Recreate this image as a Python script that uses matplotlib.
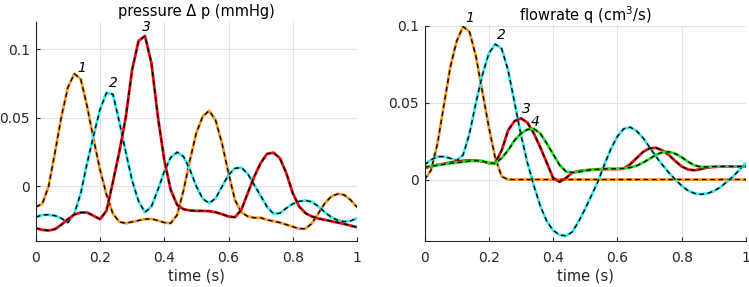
import numpy as np
import matplotlib
matplotlib.use("Agg")
import matplotlib.pyplot as plt

plt.rcParams['font.family'] = ['DejaVu Sans']
plt.rcParams['lines.scale_dashes'] = False

# time samples (s)
t = np.arange(51) * 0.02

# pressure curves (mmHg)
p1 = [-0.015, -0.013, 0.0, 0.025, 0.051, 0.072, 0.082, 0.078, 0.058, 0.034,
      0.012, -0.006, -0.020, -0.026, -0.027, -0.026, -0.025, -0.024, -0.0238, -0.025,
      -0.0265, -0.027, -0.021, -0.003, 0.019, 0.039, 0.051, 0.055, 0.048, 0.031,
      0.0095, -0.010, -0.019, -0.022, -0.023, -0.023, -0.0245, -0.0255, -0.0265, -0.028,
      -0.0295, -0.031, -0.031, -0.027, -0.0197, -0.0124, -0.0075, -0.0056, -0.0063, -0.010,
      -0.0153]
p2 = [-0.0225, -0.021, -0.0208, -0.0215, -0.0235, -0.0265, -0.020, -0.005, 0.017, 0.037,
      0.056, 0.068, 0.067, 0.047, 0.025, 0.004, -0.011, -0.019, -0.0148, -0.0027,
      0.0107, 0.021, 0.0248, 0.0216, 0.012, -0.0002, -0.0092, -0.0124, -0.0088, -0.0002,
      0.0083, 0.013, 0.0136, 0.009, 0.001, -0.007, -0.015, -0.020, -0.0197, -0.016,
      -0.0129, -0.011, -0.0104, -0.0114, -0.0148, -0.019, -0.0226, -0.0248, -0.0258, -0.0253,
      -0.0233]
p3 = [-0.0306, -0.0318, -0.0323, -0.0313, -0.028, -0.024, -0.0207, -0.0192, -0.0192, -0.0216,
      -0.024, -0.018, 0.003, 0.025, 0.050, 0.085, 0.106, 0.1095, 0.0897, 0.0508,
      0.0192, -0.0027, -0.0136, -0.0168, -0.0177, -0.018, -0.018, -0.0182, -0.019, -0.0204,
      -0.0221, -0.0226, -0.0172, -0.005, 0.007, 0.0168, 0.0236, 0.0245, 0.0204, 0.0095,
      -0.005, -0.0148, -0.0197, -0.0221, -0.0236, -0.0245, -0.0255, -0.0265, -0.0275, -0.0287,
      -0.0299]

# flowrate curves (cm^3/s)
q1 = [0.0, 0.006, 0.023, 0.048, 0.073, 0.090, 0.0995, 0.096, 0.080, 0.057,
      0.034, 0.014, 0.002] + [0.0] * 38
q2 = [0.0096, 0.0128, 0.0149, 0.0149, 0.0138, 0.0124, 0.016, 0.030, 0.050, 0.068,
      0.082, 0.088, 0.085, 0.071, 0.050, 0.029, 0.011, -0.004, -0.017, -0.027,
      -0.033, -0.036, -0.0366, -0.034, -0.027, -0.019, -0.010, -0.001, 0.010, 0.020,
      0.028, 0.033, 0.034, 0.0315, 0.027, 0.021, 0.015, 0.0095, 0.0045, 0.0,
      -0.004, -0.0072, -0.009, -0.0096, -0.009, -0.0075, -0.005, -0.0015, 0.002, 0.0065,
      0.0107]
q3 = [0.0075, 0.0085, 0.0095, 0.0102, 0.011, 0.0117, 0.0122, 0.0124, 0.0124, 0.0118,
      0.0106, 0.0108, 0.019, 0.032, 0.038, 0.0398, 0.037, 0.030, 0.021, 0.011,
      0.001, -0.0015, 0.001, 0.0045, 0.0055, 0.006, 0.0064, 0.0066, 0.0068, 0.0068,
      0.0068, 0.0072, 0.010, 0.014, 0.018, 0.0203, 0.0206, 0.019, 0.016, 0.012,
      0.0085, 0.0065, 0.006, 0.0068, 0.0078, 0.0082, 0.0084, 0.0085, 0.0085, 0.0085,
      0.0085]
q4 = [0.008, 0.0087, 0.0093, 0.0099, 0.0105, 0.011, 0.0115, 0.012, 0.0122, 0.012,
      0.0108, 0.0104, 0.014, 0.019, 0.0255, 0.030, 0.0325, 0.033, 0.030, 0.0235,
      0.0165, 0.0095, 0.0052, 0.0045, 0.005, 0.0058, 0.0064, 0.0067, 0.0069, 0.007,
      0.007, 0.0072, 0.0078, 0.009, 0.011, 0.0135, 0.016, 0.0178, 0.018, 0.0168,
      0.0145, 0.0115, 0.0092, 0.0082, 0.0082, 0.0084, 0.0085, 0.0085, 0.0085, 0.0085,
      0.0085]

orange = '#FA9A26'
cyan = '#38E8F0'
red = '#E80E0E'
green = '#1EE01E'
axcol = '#262626'

# labels for the peaks: (text, t, value)
p_labels = [('1', 0.143, 0.0864), ('2', 0.240, 0.0754), ('3', 0.345, 0.116)]
q_labels = [('1', 0.142, 0.105), ('2', 0.238, 0.0937), ('3', 0.318, 0.0458), ('4', 0.344, 0.0373)]

fig = plt.figure(figsize=(7.49, 2.87), dpi=100)
ax1 = fig.add_axes([0.0478, 0.160, 0.4288, 0.7648])
ax2 = fig.add_axes([0.5668, 0.160, 0.4292, 0.7505])


def draw(ax, curves, labels):
    for y, c in curves:
        ax.plot(t, y, color=c, lw=2.0, solid_capstyle='round')
        ax.plot(t, y, color='black', lw=1.0, dashes=(3.4, 2.6))
    for s, x, y in labels:
        ax.text(x, y, s, ha='center', va='center', fontsize=10, style='italic')
    ax.set_xlim(0, 1)
    ax.set_xticks([0, 0.2, 0.4, 0.6, 0.8, 1])
    ax.set_xticklabels(['0', '0.2', '0.4', '0.6', '0.8', '1'])
    ax.grid(True, color='#E3E3E3', lw=0.8)
    ax.set_axisbelow(True)
    for sp in ['top', 'right']:
        ax.spines[sp].set_visible(False)
    for sp in ['left', 'bottom']:
        ax.spines[sp].set_color(axcol)
        ax.spines[sp].set_linewidth(0.8)
    ax.tick_params(direction='in', length=3, width=0.8, color=axcol,
                   labelcolor=axcol, labelsize=10)
    ax.tick_params(axis='x', pad=7)
    ax.tick_params(axis='y', pad=4)
    ax.set_xlabel('time (s)', fontsize=10.5, color=axcol, labelpad=3)


draw(ax1, [(p1, orange), (p2, cyan), (p3, red)], p_labels)
ax1.set_ylim(-0.04, 0.12)
ax1.set_yticks([0, 0.05, 0.1])
ax1.set_yticklabels(['0', '0.05', '0.1'])
ax1.set_title('pressure \u0394 p (mmHg)', fontsize=10.5, color='black', pad=4)

draw(ax2, [(q1, orange), (q2, cyan), (q3, red), (q4, green)], q_labels)
ax2.set_ylim(-0.04, 0.1)
ax2.set_yticks([0, 0.05, 0.1])
ax2.set_yticklabels(['0', '0.05', '0.1'])
ax2.set_title('flowrate q (cm$^3$/s)', fontsize=10.5, color='black', pad=3)

fig.savefig('out.png', dpi=100)
